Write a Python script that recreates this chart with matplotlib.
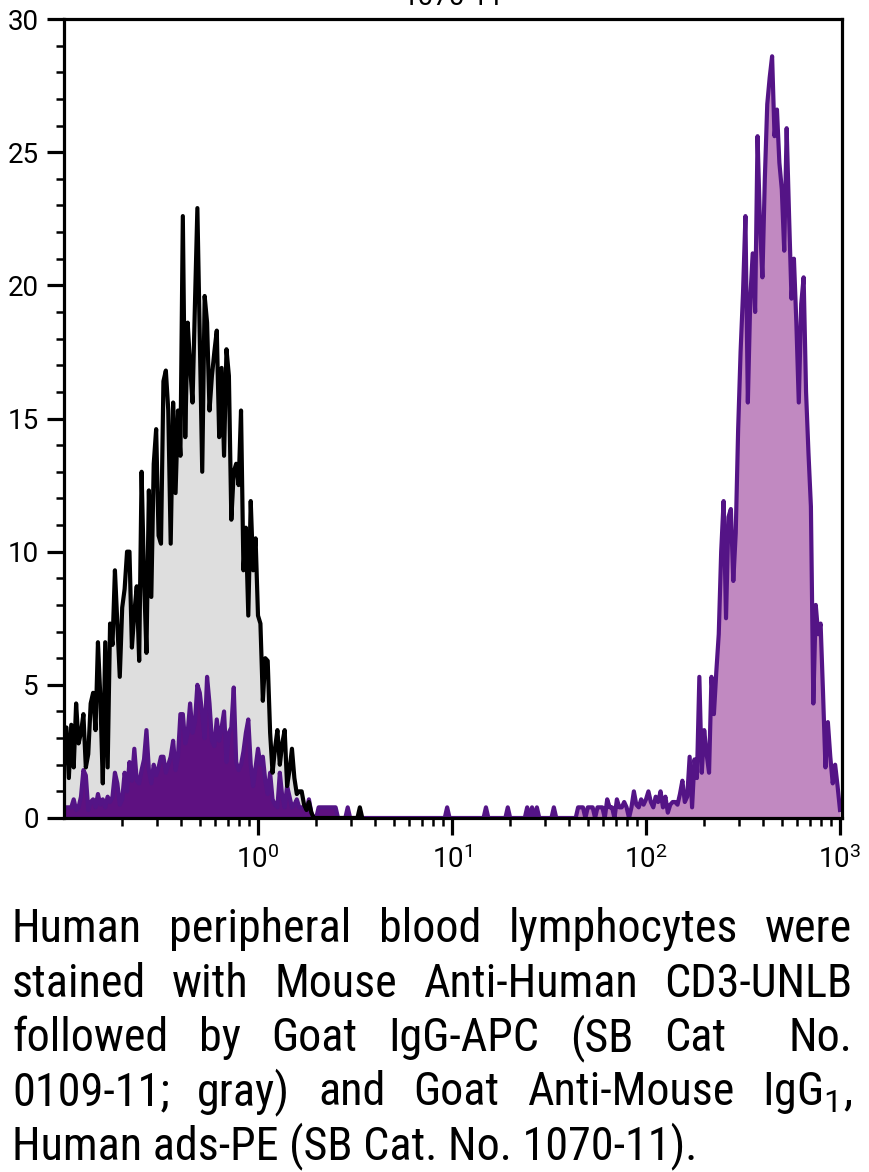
import numpy as np
import matplotlib
matplotlib.use("Agg")
import matplotlib.pyplot as plt
from matplotlib import font_manager
from matplotlib.ticker import FixedLocator, MultipleLocator, NullFormatter

# ticks in Roboto, caption in a narrow face if one is installed
installed = {f.name for f in font_manager.fontManager.ttflist}
FONT = "Roboto"
CAPTION_FONT = FONT
for cand in ["Liberation Sans Narrow", "Roboto Condensed", "Open Sans Condensed"]:
    if cand in installed:
        CAPTION_FONT = cand
        break
plt.rcParams["font.family"] = [FONT, "DejaVu Sans"]
plt.rcParams["mathtext.fontset"] = "custom"
plt.rcParams["mathtext.rm"] = FONT
plt.rcParams["mathtext.it"] = FONT
plt.rcParams["mathtext.bf"] = FONT

# ── data: histogram counts per channel (80 channels per decade, channel 0 = 0.1) ──
CH_PER_DECADE = 80
X_MIN, X_MAX = 0.1, 1024

# isotype control (gray), channels 0..103
gray_counts = [
    2.0, 3.4, 1.5, 3.5, 1.9, 4.3, 2.8, 3.2, 3.9, 1.9,
    2.4, 4.3, 4.7, 3.3, 6.6, 4.5, 1.3, 6.6, 1.9, 7.3,
    6.5, 9.3, 7.3, 5.3, 7.9, 8.6, 10.0, 10.0, 6.4, 7.7,
    8.7, 5.9, 13.0, 9.0, 6.2, 12.3, 8.3, 13.3, 14.6, 10.6,
    10.3, 16.4, 16.8, 15.3, 10.3, 15.6, 12.2, 15.3, 13.6, 22.6,
    14.3, 18.6, 17.0, 15.6, 19.3, 22.9, 18.0, 13.0, 19.6, 18.6,
    15.3, 16.6, 17.5, 18.3, 14.3, 16.9, 13.6, 17.6, 16.6, 11.2,
    13.0, 13.3, 12.5, 15.3, 9.3, 10.9, 7.6, 11.9, 9.3, 10.5,
    7.6, 7.3, 4.4, 6.0, 5.9, 3.2, 1.7, 2.6, 3.3, 2.0,
    2.8, 3.3, 1.2, 1.8, 2.6, 1.5, 0.9, 1.0, 1.0, 0.5,
    0.3, 0.6, 0.2, 0.0,
]
gray_blip_ch = [122]
gray_blip = [0.4]

# stained sample (purple): low population, channels 0..113
purple_low = [
    0.4, 0.4, 0.4, 0.4, 0.7, 0.3, 0.4, 0.8, 1.8, 1.6,
    0.3, 0.6, 0.7, 0.4, 0.9, 0.5, 0.7, 0.4, 0.8, 0.6,
    0.8, 1.7, 1.3, 0.5, 0.7, 1.7, 1.0, 2.1, 1.4, 2.6,
    1.4, 1.3, 1.8, 2.2, 3.3, 1.8, 1.3, 2.0, 1.6, 1.9,
    2.3, 2.3, 1.7, 2.0, 2.3, 2.9, 1.8, 2.3, 3.9, 3.9,
    2.8, 3.2, 4.3, 3.2, 3.6, 5.0, 4.7, 3.9, 3.0, 5.3,
    4.3, 2.9, 2.7, 3.7, 2.9, 3.4, 4.0, 2.1, 3.2, 3.4,
    4.9, 2.1, 1.8, 2.0, 2.5, 3.2, 3.7, 2.0, 1.2, 1.9,
    2.6, 2.0, 2.3, 1.4, 0.9, 1.7, 0.7, 0.5, 0.4, 1.7,
    0.8, 0.4, 1.2, 0.8, 0.4, 0.5, 0.7, 0.4, 0.4, 0.4,
    0.3, 0.7, 0.2, 0.0, 0.0, 0.4, 0.4, 0.4, 0.4, 0.4,
    0.4, 0.4, 0.4, 0.0,
]
# single events between the two populations
purple_blip_ch = [117, 158, 174, 183, 191, 193, 195, 202,
                  212, 213, 214, 216, 217, 218, 220, 221, 222]
purple_blip = [0.4] * len(purple_blip_ch)
# bright population, channels 224..320
PURPLE_HIGH_START = 224
purple_high = [
    0.7, 0.4, 0.4, 0.0, 0.7, 0.4, 0.4, 0.6, 0.4, 0.0,
    0.4, 1.0, 0.5, 0.4, 0.7, 0.5, 0.7, 1.0, 0.6, 0.4,
    0.8, 0.6, 1.0, 0.4, 0.8, 0.2, 0.5, 0.6, 0.6, 0.5,
    0.9, 1.4, 0.6, 0.8, 2.3, 0.4, 2.2, 1.5, 5.3, 1.7,
    3.3, 2.4, 1.7, 5.3, 3.9, 5.5, 6.9, 10.0, 11.9, 7.5,
    11.3, 11.6, 8.9, 10.7, 14.6, 17.5, 19.7, 22.6, 15.6, 19.5,
    21.2, 19.0, 25.6, 22.3, 20.3, 24.0, 26.8, 27.8, 28.6, 25.6,
    26.6, 24.6, 23.6, 21.3, 25.9, 22.6, 19.5, 21.0, 18.6, 15.6,
    19.3, 20.3, 16.0, 13.7, 11.7, 4.3, 8.0, 6.9, 7.3, 4.7,
    1.9, 3.6, 2.3, 1.3, 2.0, 1.2, 0.3,
]

caption_lines = [
    "Human peripheral blood lymphocytes were",
    "stained with Mouse Anti-Human CD3-UNLB",
    "followed by Goat IgG-APC (SB Cat  No.",
    "0109-11; gray) and Goat Anti-Mouse IgG$_{1}$,",
    "Human ads-PE (SB Cat. No. 1070-11).",
]
title = "1070-11"

# ── assemble channel arrays ──
n_ch = PURPLE_HIGH_START + len(purple_high)
gray = np.zeros(n_ch)
gray[:len(gray_counts)] = gray_counts
gray[gray_blip_ch] = gray_blip
purple = np.zeros(n_ch)
purple[:len(purple_low)] = purple_low
purple[purple_blip_ch] = purple_blip
purple[PURPLE_HIGH_START:] = purple_high
x = X_MIN * 10 ** (np.arange(n_ch) / CH_PER_DECADE)

# ── figure ──
W, H = 870, 1172
fig = plt.figure(figsize=(W / 100, H / 100), dpi=100)
ax = fig.add_axes([64 / W, 1 - 818 / H, (842 - 64) / W, (818 - 19) / H])

ax.fill_between(x, gray, color="#dedede", lw=0, zorder=1)
dark = x < 10
ax.fill_between(x, purple, where=dark, color="#5e1181", lw=0, zorder=1.2)
ax.fill_between(x, purple, where=~dark, color="#c189c1", lw=0, zorder=1.2)
ax.plot(x, purple, color="#541486", lw=3.0, zorder=1.5)
ax.plot(x[:len(gray_counts) + 20], gray[:len(gray_counts) + 20],
        color="black", lw=3.0, zorder=1.8)

ax.set_xscale("log")
ax.set_xlim(X_MIN, X_MAX)
ax.set_ylim(0, 30)

ax.xaxis.set_major_locator(FixedLocator([1, 10, 100, 1000]))
ax.xaxis.set_minor_locator(FixedLocator(
    [m * 10.0 ** d for d in range(-1, 3) for m in range(2, 10)]))
ax.xaxis.set_minor_formatter(NullFormatter())
ax.yaxis.set_major_locator(MultipleLocator(5))
ax.yaxis.set_minor_locator(MultipleLocator(1))

for s in ax.spines.values():
    s.set_linewidth(2.3)
ax.tick_params(which="major", length=12, width=2.3, labelsize=20, pad=6)
ax.tick_params(which="minor", length=5.5, width=1.8)
ax.tick_params(axis="x", which="major", pad=8)

fig.text(453 / W, 1 - 5 / H, title, ha="center", va="baseline", fontsize=20)

# ── justified caption ──
renderer = fig.canvas.get_renderer()


def width_of(s, size):
    t = fig.text(0, 0, s, fontsize=size, family=[CAPTION_FONT, "DejaVu Sans"])
    w = t.get_window_extent(renderer).width
    t.remove()
    return w


left, right = 12, 852
size = 30 * 686 / width_of(caption_lines[-1], 30)
baselines = [942, 997, 1051, 1105, 1159]
for i, (line, yb) in enumerate(zip(caption_lines, baselines)):
    yf = 1 - yb / H
    if i == len(caption_lines) - 1:
        fig.text(left / W, yf, line, fontsize=size, va="baseline",
                 family=[CAPTION_FONT, "DejaVu Sans"])
        continue
    words = line.split(" ")
    widths = [width_of(w, size) if w else 0 for w in words]
    gap = (right - left - sum(widths)) / (len(words) - 1)
    cx = left
    for w, ww in zip(words, widths):
        if w:
            fig.text(cx / W, yf, w, fontsize=size, va="baseline",
                     family=[CAPTION_FONT, "DejaVu Sans"])
        cx += ww + gap

fig.savefig("out.png", dpi=100)
